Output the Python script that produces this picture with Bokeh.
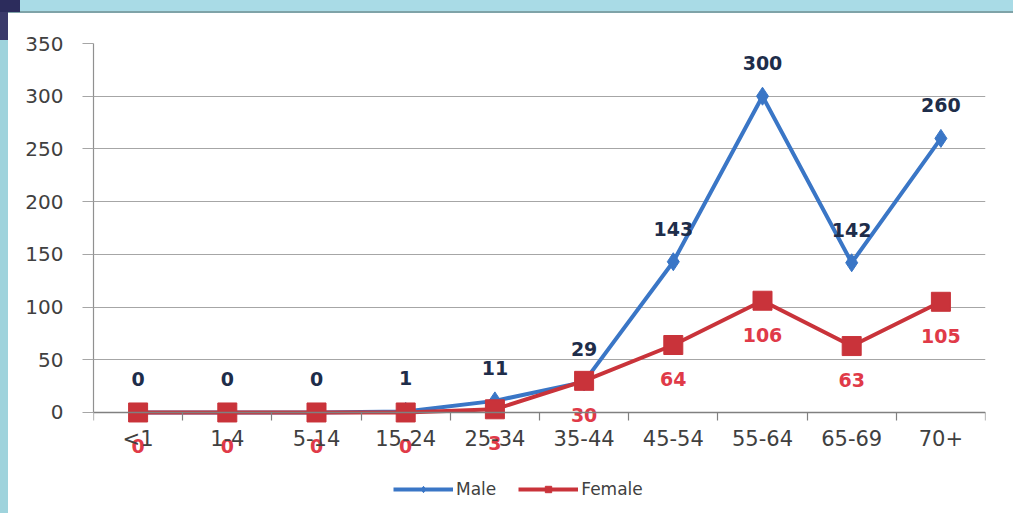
from bokeh.plotting import figure
from bokeh.models import (Range1d, LinearAxis, FixedTicker,
                          ColumnDataSource, Legend, LegendItem, Grid)
from bokeh.core.properties import value
from bokeh.embed import file_html
from bokeh.resources import INLINE

# ---- data ----
categories = ["<1", "1-4", "5-14", "15-24", "25-34", "35-44", "45-54", "55-64", "65-69", "70+"]
male = [0, 0, 0, 1, 11, 29, 143, 300, 142, 260]
female = [0, 0, 0, 0, 3, 30, 64, 106, 63, 105]
y_ticks = [0, 50, 100, 150, 200, 250, 300, 350]
series_names = ["Male", "Female"]

# ---- styles ----
MALE_COLOR = "#3a76c6"
FEMALE_COLOR = "#c9333a"
MALE_LABEL = "#1e2d4a"
FEMALE_LABEL = "#e03a48"
GRID = "#a6a6a6"
TICK_TEXT = "#404040"
FONT = "DejaVu Sans"
FRAME_CYAN = "#a9dbe6"

n = len(categories)
centers = [i + 0.5 for i in range(n)]
bounds = list(range(n + 1))

src = ColumnDataSource(dict(
    x=centers, male=male, female=female,
    male_lbl=[str(v) for v in male], female_lbl=[str(v) for v in female],
))

W, H = 1013, 513
p = figure(width=W, height=H,
           x_range=Range1d(0, n),
           y_range=Range1d(-83.5, 350),
           output_backend="svg", toolbar_location=None,
           x_axis_location=None, y_axis_location=None,
           min_border_left=93, min_border_right=28, min_border_top=43, min_border_bottom=13)
p.outline_line_color = None
p.background_fill_color = "white"
p.border_fill_alpha = 0
p.styles = {
    "background": (
        "linear-gradient(#2c2c5c, #2c2c5c) 0 0 / 20px 12px no-repeat, "
        "linear-gradient(#3a3a6a, #3a3a6a) 0 0 / 8px 40px no-repeat, "
        "linear-gradient(#7fa3a8, #7fa3a8) 0 11px / 100% 2px no-repeat, "
        f"linear-gradient({FRAME_CYAN}, {FRAME_CYAN}) 0 0 / 100% 12px no-repeat, "
        "linear-gradient(#9fd3dc, #9fd3dc) 0 0 / 8px 100% no-repeat, "
        "white"
    )
}
p.center = []  # drop default grids

# horizontal gridlines
grid = Grid(dimension=1, ticker=FixedTicker(ticks=y_ticks), grid_line_color=GRID, grid_line_width=1.2)
p.add_layout(grid, "center")

# y axis
yax = LinearAxis(ticker=FixedTicker(ticks=y_ticks), bounds=(0, 350))
yax.axis_line_color = "#909090"
yax.axis_line_width = 1.2
yax.major_tick_line_color = GRID
yax.major_tick_line_width = 1.2
yax.major_tick_out = 11
yax.major_tick_in = 0
yax.minor_tick_line_color = None
yax.major_label_text_font = FONT
yax.major_label_text_font_size = "20px"
yax.major_label_text_color = TICK_TEXT
yax.major_label_standoff = 19
p.add_layout(yax, "left")

# x axis: category labels at centers, ticks at boundaries
xax = LinearAxis(fixed_location=0,
                 ticker=FixedTicker(ticks=centers, minor_ticks=bounds),
                 major_label_overrides={c: lab for c, lab in zip(centers, categories)})
xax.axis_line_color = "#808080"
xax.axis_line_width = 1.3
xax.major_tick_line_color = None
xax.minor_tick_line_color = "#808080"
xax.minor_tick_line_width = 1.2
xax.minor_tick_out = 8
xax.minor_tick_in = 0
xax.major_tick_out = 0
xax.major_tick_in = 0
xax.major_label_text_font = FONT
xax.major_label_text_font_size = "21px"
xax.major_label_text_color = TICK_TEXT
xax.major_label_standoff = 7
p.add_layout(xax, "below")

# series
ml = p.line("x", "male", source=src, line_color=MALE_COLOR, line_width=4)
ms = p.scatter("x", "male", source=src, marker="diamond", size=18,
               fill_color=MALE_COLOR, line_color=MALE_COLOR)
fl = p.line("x", "female", source=src, line_color=FEMALE_COLOR, line_width=4)
fs = p.scatter("x", "female", source=src, marker="square", size=19,
               fill_color=FEMALE_COLOR, line_color=FEMALE_COLOR)

# data labels
p.text("x", "male", text="male_lbl", source=src, y_offset=-33,
       text_align="center", text_baseline="middle",
       text_font=value(FONT), text_font_style="bold", text_font_size="19px",
       text_color=MALE_LABEL)
p.text("x", "female", text="female_lbl", source=src, y_offset=34,
       text_align="center", text_baseline="middle",
       text_font=value(FONT), text_font_style="bold", text_font_size="19px",
       text_color=FEMALE_LABEL)

legend = Legend(items=[LegendItem(label=series_names[0], renderers=[ml, ms]),
                       LegendItem(label=series_names[1], renderers=[fl, fs])],
                orientation="horizontal", location=(300, 1))
legend.glyph_width = 60
legend.glyph_height = 16
legend.label_text_font = FONT
legend.label_text_font_size = "17px"
legend.label_text_color = TICK_TEXT
legend.label_standoff = 3
legend.spacing = 22
legend.padding = 0
legend.margin = 0
legend.border_line_color = None
legend.background_fill_alpha = 0
p.add_layout(legend, "center")

open("out.html", "w").write(file_html(p, INLINE))
